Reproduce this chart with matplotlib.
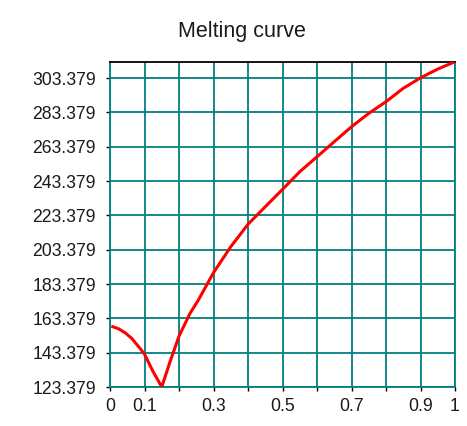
import numpy as np
import matplotlib
matplotlib.use('Agg')
import matplotlib.pyplot as plt

plt.rcParams['font.family'] = ['Liberation Sans', 'DejaVu Sans']

# melting curve
fraction = [0.008, 0.025, 0.045, 0.063, 0.087, 0.1, 0.125, 0.15, 0.174, 0.2, 0.232, 0.256,
            0.3, 0.35, 0.4, 0.45, 0.5, 0.55, 0.6, 0.65, 0.7, 0.75, 0.8, 0.85, 0.9, 0.95, 1.0]
temperature = [158.5, 157.3, 154.8, 151.7, 145.9, 142.5, 132.3, 123.4, 138.1, 153.0, 166.3, 174.0,
               190.0, 205.1, 218.2, 228.4, 238.5, 248.8, 257.5, 266.3, 275.0, 282.8, 289.6,
               297.4, 303.5, 308.6, 312.9]

y_ticks = [123.379 + 20 * i for i in range(10)]
x_ticks = [i / 10 for i in range(11)]
x_labels = ['0', '0.1', '', '0.3', '', '0.5', '', '0.7', '', '0.9', '1']

teal = '#008080'

fig = plt.figure(figsize=(4.67, 4.26), dpi=100)
ax = fig.add_axes([110 / 467, 1 - 387 / 426, 345 / 467, (387 - 61.7) / 426])

ax.plot(fraction, temperature, color='red', lw=2.2, zorder=3)

ax.set_xlim(0, 1)
ax.set_ylim(123.379, 312.9)
ax.set_xticks(x_ticks)
ax.set_xticklabels(x_labels)
ax.set_yticks(y_ticks)
ax.set_yticklabels([f'{v:.3f}' for v in y_ticks])
ax.grid(True, color=teal, lw=1.3)
ax.tick_params(labelsize=12.7, length=3, width=1, color='black', labelcolor='#1a1a1a')
ax.tick_params(axis='y', pad=7)
ax.tick_params(axis='x', pad=5)

for side in ['left', 'right', 'bottom']:
    ax.spines[side].set_color(teal)
    ax.spines[side].set_linewidth(1.3)
ax.spines['top'].set_color('black')
ax.spines['top'].set_linewidth(1.3)

fig.text(241.5 / 467, 1 - 37 / 426, 'Melting curve', ha='center', va='baseline',
         fontsize=15.5, color='#1a1a1a')

fig.savefig('out.png', dpi=100)
